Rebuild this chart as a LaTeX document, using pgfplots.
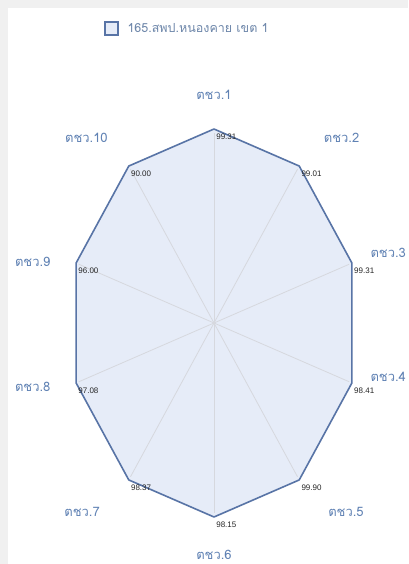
\documentclass[border=0pt]{standalone}
\usepackage{pgfplots}
\pgfplotsset{compat=1.18}
\usepackage{fontspec}
\setmainfont{Liberation Sans}
\newfontfamily\thaifont[Script=Thai]{Loma}

\definecolor{lineblue}{RGB}{88,116,166}
\definecolor{fillblue}{RGB}{230,236,248}
\definecolor{labblue}{RGB}{96,130,180}
\definecolor{legtext}{RGB}{110,135,170}
\definecolor{spoke}{RGB}{214,216,222}
\definecolor{frame}{RGB}{240,240,240}

\begin{document}
\begin{tikzpicture}
  \clip (0,0) rectangle (408pt,564pt);
  \fill[frame] (0,0) rectangle (408pt,564pt);
  \fill[white] (8pt,0) rectangle (408pt,556pt);

  % legend
  \draw[lineblue, line width=1.4pt, fill=fillblue] (105pt,529pt) rectangle (118pt,542pt);
  \node[anchor=west, text=legtext, font=\thaifont\fontsize{12.5}{14}\selectfont]
    at (124pt,535.5pt) {165.สพป.หนองคาย เขต 1};

  \begin{axis}[
      at={(214pt,241pt)}, anchor=center,
      scale only axis,
      width=290pt, height=388pt,
      xmin=-100, xmax=100,
      ymin=-100, ymax=100,
      hide axis,
      clip=false,
    ]
    % filled polygon (all vertices drawn at the outer ring)
    \addplot[draw=lineblue, line width=1.6pt, fill=fillblue, line join=round,
      data cs=polar,
      nodes near coords, point meta=explicit symbolic,
      every node near coord/.append style={anchor=north west, font=\fontsize{8}{9}\selectfont,
        text=black!85, inner sep=1pt, xshift=0.5pt, yshift=-3pt}]
      coordinates {
        (90,100)   [99.31]
        (54,100)   [99.01]
        (18,100)   [99.31]
        (-18,100)  [98.41]
        (-54,100)  [99.90]
        (-90,100)  [98.15]
        (-126,100) [98.37]
        (-162,100) [97.08]
        (162,100)  [96.00]
        (126,100)  [90.00]
      } -- cycle;

    % spokes
    \pgfplotsinvokeforeach{90,54,18,-18,-54,-90,-126,-162,162,126}{
      \draw[spoke, line width=0.8pt] (axis cs:0,0) -- (axis cs:{98*cos(#1)},{98*sin(#1)});
    }

    % category labels
    \tikzset{cat/.style={text=labblue, font=\thaifont\fontsize{13}{15}\selectfont}}
    \node[cat] at (axis cs:0,117.5)     {ตชว.1};
    \node[cat] at (axis cs:88,95.5)     {ตชว.2};
    \node[cat, anchor=east, inner sep=0pt] at (axis cs:132.5,36)    {ตชว.3};
    \node[cat, anchor=east, inner sep=0pt] at (axis cs:132.5,-28)   {ตชว.4};
    \node[cat] at (axis cs:91,-97.5)    {ตชว.5};
    \node[cat] at (axis cs:0,-119.5)    {ตชว.6};
    \node[cat] at (axis cs:-91,-97.5)   {ตชว.7};
    \node[cat] at (axis cs:-125,-33)    {ตชว.8};
    \node[cat] at (axis cs:-125,31.5)   {ตชว.9};
    \node[cat] at (axis cs:-88,95.5)    {ตชว.10};
  \end{axis}
\end{tikzpicture}
\end{document}
